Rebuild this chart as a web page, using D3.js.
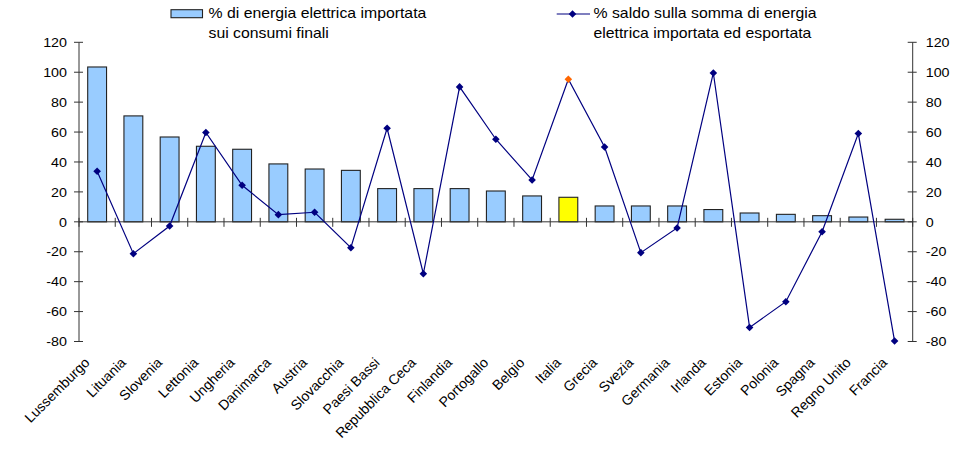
<!DOCTYPE html>
<html>
<head>
<meta charset="utf-8">
<script src="https://cdn.jsdelivr.net/npm/d3@7"></script>
<style>
  html, body { margin: 0; padding: 0; background: #fff; }
  svg { display: block; font-family: "Liberation Sans", Arial, sans-serif; }
</style>
</head>
<body>
<svg id="chart" width="971" height="457"></svg>
<script>
const categories = ["Lussemburgo","Lituania","Slovenia","Lettonia","Ungheria","Danimarca","Austria","Slovacchia","Paesi Bassi","Repubblica Ceca","Finlandia","Portogallo","Belgio","Italia","Grecia","Svezia","Germania","Irlanda","Estonia","Polonia","Spagna","Regno Unito","Francia"];
const importShare = [103.5, 70.8, 56.7, 50.5, 48.5, 38.7, 35.3, 34.4, 22.2, 22.2, 22.2, 20.6, 17.3, 16.4, 10.6, 10.6, 10.6, 8.2, 5.9, 5.0, 4.1, 3.2, 1.7];
const balance = [33.8, -21.3, -2.8, 59.7, 24.4, 4.8, 6.4, -17.3, 62.5, -34.7, 90.2, 55.2, 28.0, 95.3, 50.0, -20.6, -4.1, 99.5, -70.6, -53.4, -6.6, 59.0, -79.7];
const yTicks = [-80, -60, -40, -20, 0, 20, 40, 60, 80, 100, 120];
const highlight = "Italia";
const seriesNames = [["% di energia elettrica importata", "sui consumi finali"], ["% saldo sulla somma di energia", "elettrica importata ed esportata"]];

(function () {
const svg = d3.select("#chart");
const pLeft = 79, pRight = 912.7, pTop = 42.3, pBottom = 341.5;
const x = d3.scaleBand().domain(categories).range([pLeft, pRight]).paddingInner(0).paddingOuter(0);
const y = d3.scaleLinear().domain([-80, 120]).range([pBottom, pTop]);
const axisColor = "#333";
const navy = "#000080";
const diamond = "M0,-3.8L3.8,0L0,3.8L-3.8,0Z";

// bars
const bw = x.bandwidth() * 0.52;
svg.append("g").selectAll("rect").data(categories).join("rect")
  .attr("x", (d) => x(d) + (x.bandwidth() - bw) / 2)
  .attr("y", (d, i) => y(Math.max(0, importShare[i])))
  .attr("width", bw)
  .attr("height", (d, i) => Math.abs(y(importShare[i]) - y(0)))
  .attr("fill", d => d === highlight ? "#FFFF00" : "#99CCFF")
  .attr("stroke", "#222")
  .attr("stroke-width", 1.1);

// axes lines
const g = svg.append("g").attr("stroke", axisColor).attr("stroke-width", 1);
g.append("line").attr("x1", pLeft).attr("x2", pLeft).attr("y1", y(120)).attr("y2", y(-80));
g.append("line").attr("x1", pRight).attr("x2", pRight).attr("y1", y(120)).attr("y2", y(-80));
g.append("line").attr("x1", pLeft).attr("x2", pRight).attr("y1", y(0)).attr("y2", y(0));
yTicks.forEach(t => {
  g.append("line").attr("x1", pLeft - 5).attr("x2", pLeft + 4).attr("y1", y(t)).attr("y2", y(t));
  g.append("line").attr("x1", pRight - 5).attr("x2", pRight + 4).attr("y1", y(t)).attr("y2", y(t));
});
categories.forEach((c) => {
  const bx = x(c);
  g.append("line").attr("x1", bx).attr("x2", bx).attr("y1", y(0) - 4).attr("y2", y(0) + 5);
});
g.append("line").attr("x1", pRight).attr("x2", pRight).attr("y1", y(0) - 4).attr("y2", y(0) + 5);

// tick labels
const tl = svg.append("g").attr("font-size", 13).attr("fill", "#000");
yTicks.forEach(t => {
  tl.append("text").attr("transform", `translate(${pLeft - 12},${y(t)}) scale(1.1,1)`)
    .attr("text-anchor", "end").attr("dy", "0.36em").text(t);
  tl.append("text").attr("transform", `translate(${pRight + 13},${y(t)}) scale(1.1,1)`)
    .attr("text-anchor", "start").attr("dy", "0.36em").text(t);
});

// category labels
svg.append("g").attr("font-size", 14).selectAll("text").data(categories).join("text")
  .attr("transform", d => `translate(${x(d) + x.bandwidth() / 2 - 10},360) rotate(-45)`)
  .attr("text-anchor", "end").attr("dy", "0.35em").text(d => d);

// line
const cx = d => x(d) + x.bandwidth() / 2;
svg.append("path").datum(categories)
  .attr("fill", "none").attr("stroke", navy).attr("stroke-width", 1.2)
  .attr("d", d3.line().x(d => cx(d)).y((d, i) => y(balance[i])));
svg.append("g").selectAll("path").data(categories).join("path")
  .attr("d", diamond)
  .attr("transform", (d, i) => `translate(${cx(d)},${y(balance[i])})`)
  .attr("fill", d => d === highlight ? "#FF6600" : navy);

// legend
const lg = svg.append("g").attr("font-size", 14);
lg.append("rect").attr("x", 171).attr("y", 9.7).attr("width", 31.5).attr("height", 8)
  .attr("fill", "#99CCFF").attr("stroke", "#222").attr("stroke-width", 1.1);
seriesNames[0].forEach((s, k) => lg.append("text")
  .attr("transform", `translate(208.5,${18 + k * 19.5}) scale(1.13,1)`).text(s));
lg.append("line").attr("x1", 556.7).attr("x2", 590).attr("y1", 14).attr("y2", 14)
  .attr("stroke", navy).attr("stroke-width", 1.2);
lg.append("path").attr("d", diamond).attr("transform", "translate(572.5,14)").attr("fill", navy);
seriesNames[1].forEach((s, k) => lg.append("text")
  .attr("transform", `translate(593.5,${18 + k * 19.5}) scale(1.13,1)`).text(s));
})();
</script>
</body>
</html>
